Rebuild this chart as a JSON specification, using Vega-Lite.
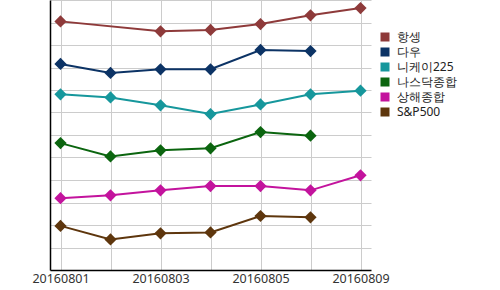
{
  "$schema": "https://vega.github.io/schema/vega-lite/v6.json",
  "width": 321,
  "height": 270,
  "autosize": "none",
  "padding": {"left": 50, "top": 0, "right": 129, "bottom": 20},
  "background": "white",
  "config": {
    "view": {"stroke": null},
    "font": "Noto Sans"
  },
  "data": {
    "values": [
      {"date": "20160801", "index": "항셍", "value": 11.05},
      {"date": "20160803", "index": "항셍", "value": 10.61},
      {"date": "20160804", "index": "항셍", "value": 10.67},
      {"date": "20160805", "index": "항셍", "value": 10.93},
      {"date": "20160808", "index": "항셍", "value": 11.32},
      {"date": "20160809", "index": "항셍", "value": 11.64},
      {"date": "20160801", "index": "다우", "value": 9.16},
      {"date": "20160802", "index": "다우", "value": 8.76},
      {"date": "20160803", "index": "다우", "value": 8.92},
      {"date": "20160804", "index": "다우", "value": 8.92},
      {"date": "20160805", "index": "다우", "value": 9.78},
      {"date": "20160808", "index": "다우", "value": 9.73},
      {"date": "20160801", "index": "니케이225", "value": 7.81},
      {"date": "20160802", "index": "니케이225", "value": 7.67},
      {"date": "20160803", "index": "니케이225", "value": 7.32},
      {"date": "20160804", "index": "니케이225", "value": 6.93},
      {"date": "20160805", "index": "니케이225", "value": 7.36},
      {"date": "20160808", "index": "니케이225", "value": 7.81},
      {"date": "20160809", "index": "니케이225", "value": 7.97},
      {"date": "20160801", "index": "나스닥종합", "value": 5.64},
      {"date": "20160802", "index": "나스닥종합", "value": 5.05},
      {"date": "20160803", "index": "나스닥종합", "value": 5.32},
      {"date": "20160804", "index": "나스닥종합", "value": 5.41},
      {"date": "20160805", "index": "나스닥종합", "value": 6.13},
      {"date": "20160808", "index": "나스닥종합", "value": 5.97},
      {"date": "20160801", "index": "상해종합", "value": 3.19},
      {"date": "20160802", "index": "상해종합", "value": 3.32},
      {"date": "20160803", "index": "상해종합", "value": 3.54},
      {"date": "20160804", "index": "상해종합", "value": 3.73},
      {"date": "20160805", "index": "상해종합", "value": 3.73},
      {"date": "20160808", "index": "상해종합", "value": 3.54},
      {"date": "20160809", "index": "상해종합", "value": 4.21},
      {"date": "20160801", "index": "S&P500", "value": 1.96},
      {"date": "20160802", "index": "S&P500", "value": 1.36},
      {"date": "20160803", "index": "S&P500", "value": 1.63},
      {"date": "20160804", "index": "S&P500", "value": 1.67},
      {"date": "20160805", "index": "S&P500", "value": 2.4},
      {"date": "20160808", "index": "S&P500", "value": 2.34}
    ]
  },
  "encoding": {
    "x": {
      "field": "date",
      "type": "ordinal",
      "title": null,
      "scale": {"type": "point", "padding": 0.21},
      "axis": {
        "labelAngle": 0,
        "domainColor": "black",
        "domainWidth": 1.5,
        "ticks": false,
        "grid": true,
        "gridColor": "#cccccc",
        "labelFontSize": 12.5,
        "labelColor": "#333333",
        "labelPadding": 2,
        "labelOverlap": false,
        "labelExpr": "indexof(['20160801','20160803','20160805','20160809'], datum.value) >= 0 ? datum.value : ''"
      }
    },
    "y": {
      "field": "value",
      "type": "quantitative",
      "title": null,
      "scale": {"domain": [0, 12], "nice": false, "zero": true},
      "axis": {
        "values": [1, 2, 3, 4, 5, 6, 7, 8, 9, 10, 11, 12],
        "labels": false,
        "ticks": false,
        "domainColor": "black",
        "domainWidth": 1.5,
        "grid": true,
        "gridColor": "#cccccc"
      }
    },
    "color": {
      "field": "index",
      "type": "nominal",
      "sort": ["항셍", "다우", "니케이225", "나스닥종합", "상해종합", "S&P500"],
      "scale": {
        "domain": ["항셍", "다우", "니케이225", "나스닥종합", "상해종합", "S&P500"],
        "range": ["#8e3a3a", "#0c3365", "#16979c", "#0b650f", "#c3139d", "#5e360d"]
      },
      "legend": {
        "title": null,
        "orient": "none",
        "legendX": 329,
        "legendY": 31,
        "symbolType": "square",
        "symbolSize": 81,
        "symbolStrokeWidth": 0,
        "symbolOpacity": 1,
        "labelFontSize": 12,
        "labelColor": "#222222",
        "rowPadding": 3,
        "labelOffset": 6
      }
    }
  },
  "layer": [
    {"mark": {"type": "line", "strokeWidth": 2}},
    {"mark": {"type": "point", "shape": "diamond", "filled": true, "size": 150, "opacity": 1}}
  ]
}
